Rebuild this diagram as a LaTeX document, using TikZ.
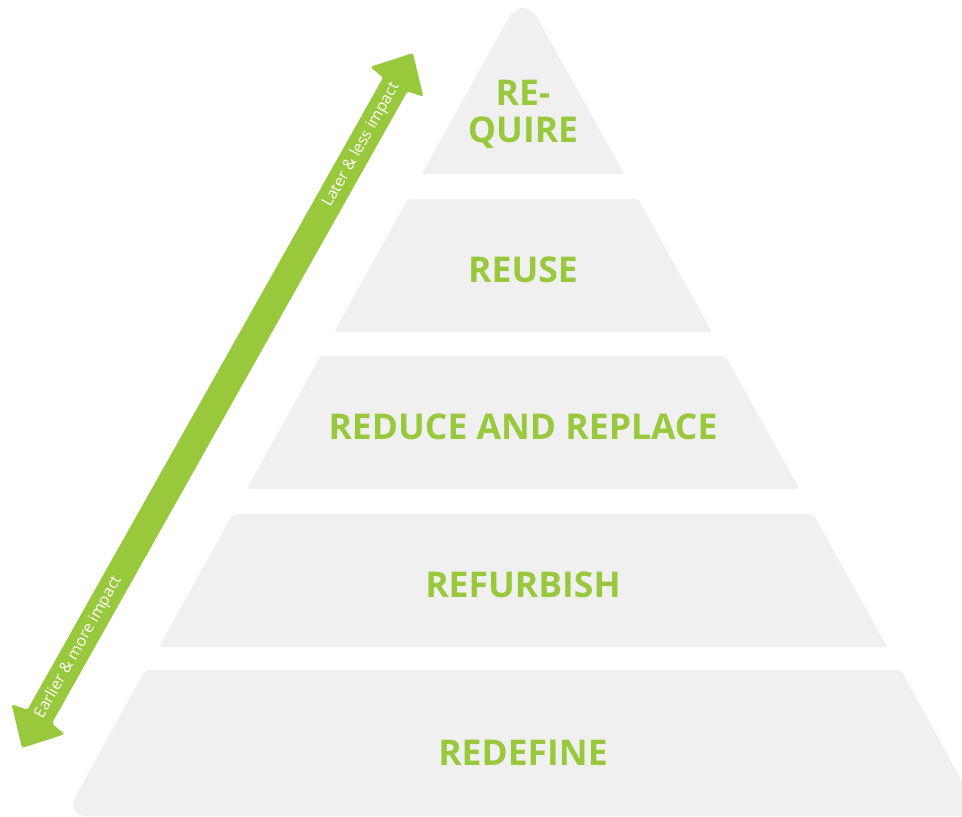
\documentclass[tikz,border=0pt]{standalone}
\usepackage{fontspec}
\setmainfont{Open Sans}
\newfontfamily\tierfont{Open Sans}[BoldFont=* Bold]
\definecolor{pgreen}{HTML}{98C93C}
\definecolor{pgray}{HTML}{F0F0F0}
\tikzset{
  tier/.style={fill=pgray, rounded corners=3pt},
  lab/.style={text=pgreen, font=\tierfont\bfseries\fontsize{35.5}{37}\selectfont, anchor=base, inner sep=0pt},
  arrowtext/.style={text=white, font=\fontsize{15.8}{17}\selectfont, rotate=60.64, inner sep=0pt},
  bigarrow/.style={fill=pgreen, rounded corners=2.5pt}
}
\begin{document}
\begin{tikzpicture}[x=1pt,y=-1pt]
\useasboundingbox (0,0) rectangle (962,817);
\clip (0,0) rectangle (962,817);
% tiers
\fill[tier] (421.8,174) [rounded corners=31pt] -- (523,-8) [rounded corners=3pt] -- (624.2,174) -- cycle;
\fill[tier] (407.9,199) -- (638.1,199) -- (712.0,332) -- (334.0,332) -- cycle;
\fill[tier] (320.6,356) -- (725.4,356) -- (799.3,489) -- (246.7,489) -- cycle;
\fill[tier] (232.8,514) -- (813.2,514) -- (887.2,647) -- (158.8,647) -- cycle;
\fill[tier] (523,816) [rounded corners=22pt] -- (64.9,816) -- (105,743) [rounded corners=3pt] -- (145.0,670)
   -- (901.0,670) -- (941,743) [rounded corners=22pt] -- (981.1,816) -- cycle;
% labels
\node[lab, align=center, anchor=base] (require) at (523,142) {RE-\\[-0.2pt]QUIRE};
\node[lab] (reuse) at (523,282) {REUSE};
\node[lab] (reduce) at (523,439) {REDUCE AND REPLACE};
\node[lab] (refurbish) at (523,597) {REFURBISH};
\node[lab] (redefine) at (523,765.7) {REDEFINE};
% double arrow
\begin{scope}[shift={(22,748)}, rotate=60.64]
  \coordinate (tipB) at (0,0);
  \coordinate (tipT) at (797.4,0);
  \fill[bigarrow] (tipB) -- (33,30.5) -- (36,14) -- (761.4,14) -- (764.4,30.5) -- (tipT)
     -- (764.4,-30.5) -- (761.4,-14) -- (36,-14) -- (33,-30.5) -- cycle;
\end{scope}
\node[arrowtext] (later) at (361.2,145) {Later \& less impact};
\node[arrowtext] (earlier) at (78.5,647.5) {Earlier \& more impact};
\end{tikzpicture}
\end{document}
